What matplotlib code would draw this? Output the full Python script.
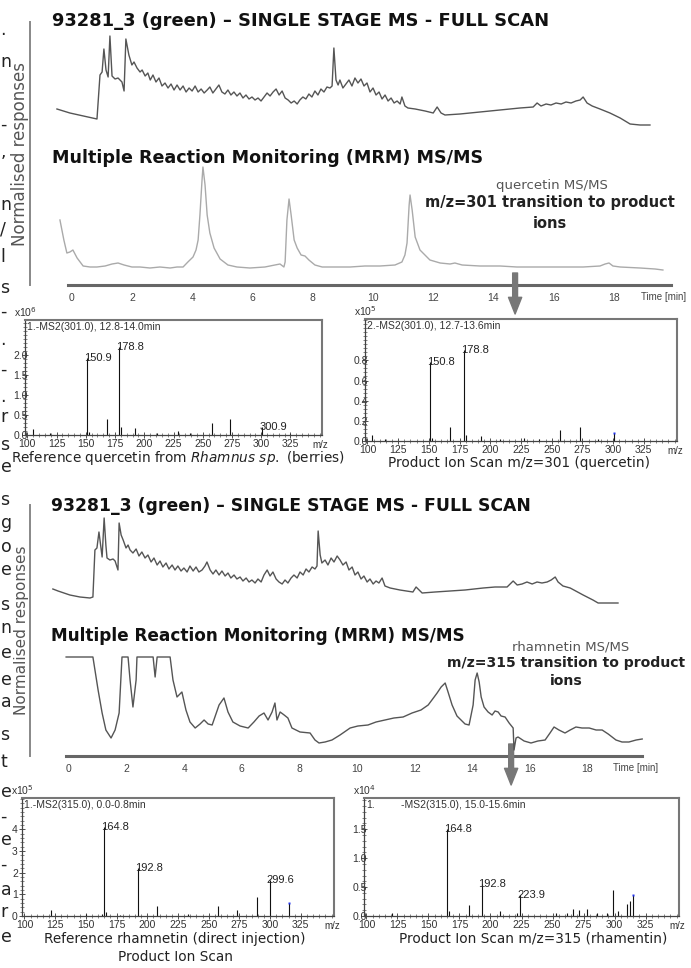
import matplotlib
matplotlib.use("Agg")
import matplotlib.pyplot as plt
from matplotlib.ticker import MultipleLocator

plt.rcParams['font.family'] = ['DejaVu Sans']

W, H = 691, 968

# chromatograms: (time [min], relative response)
fullscan_top = [
    (-0.5, 19), (-0.07, 15), (0.83, 9), (0.93, 53), (1.0, 56), (1.06, 79), (1.13, 58), (1.2, 51),
    (1.26, 92), (1.33, 52), (1.43, 49), (1.53, 50), (1.66, 46), (1.73, 37), (1.79, 89), (1.89, 73),
    (1.99, 63), (2.06, 66), (2.16, 60), (2.26, 56), (2.33, 58), (2.43, 52), (2.52, 55), (2.6, 48),
    (2.69, 53), (2.79, 46), (2.89, 50), (2.99, 42), (3.09, 45), (3.19, 40), (3.29, 44), (3.39, 38),
    (3.49, 43), (3.59, 38), (3.69, 42), (3.79, 36), (3.89, 40), (3.99, 37), (4.09, 42), (4.19, 36),
    (4.29, 39), (4.39, 35), (4.49, 38), (4.58, 41), (4.68, 35), (4.78, 39), (4.88, 43), (4.98, 36),
    (5.08, 34), (5.18, 38), (5.28, 33), (5.38, 36), (5.48, 32), (5.58, 35), (5.68, 30), (5.78, 33),
    (5.88, 29), (5.98, 31), (6.08, 28), (6.18, 30), (6.28, 27), (6.38, 31), (6.48, 35), (6.58, 32),
    (6.68, 36), (6.78, 39), (6.88, 33), (6.98, 37), (7.08, 30), (7.18, 28), (7.28, 25), (7.38, 27),
    (7.48, 24), (7.57, 28), (7.67, 31), (7.77, 29), (7.87, 34), (7.97, 31), (8.07, 37), (8.17, 33),
    (8.27, 39), (8.37, 36), (8.47, 41), (8.57, 40), (8.64, 42), (8.7, 80), (8.77, 48), (8.84, 43),
    (8.9, 48), (9.0, 40), (9.1, 44), (9.2, 48), (9.3, 42), (9.4, 50), (9.5, 45), (9.6, 49),
    (9.7, 42), (9.8, 45), (9.9, 36), (10.0, 40), (10.1, 33), (10.2, 36), (10.3, 29), (10.4, 33),
    (10.5, 27), (10.6, 30), (10.7, 25), (10.8, 27), (10.9, 24), (10.96, 31), (11.06, 22), (11.16, 20),
    (11.4, 19), (11.73, 17), (12.0, 15), (12.13, 21), (12.26, 15), (12.39, 13), (12.89, 14), (13.22, 15),
    (13.55, 16), (13.89, 17), (14.22, 18), (14.55, 19), (14.88, 20), (15.32, 21), (15.45, 25), (15.58, 22),
    (15.75, 24), (15.91, 23), (16.08, 25), (16.25, 24), (16.41, 26), (16.58, 25), (16.74, 27), (16.88, 28),
    (16.98, 31), (17.11, 25), (17.28, 22), (17.54, 19), (17.87, 15), (18.21, 10), (18.54, 4), (18.87, 3),
    (19.2, 3),
]

mrm_quercetin = [
    (-0.4, 50), (-0.27, 30), (-0.17, 17), (-0.07, 18), (0.03, 20), (0.17, 12), (0.37, 4), (0.6, 3),
    (0.83, 3), (1.1, 4), (1.33, 6), (1.53, 7), (1.73, 5), (1.99, 3), (2.26, 3), (2.59, 2), (2.92, 3),
    (3.26, 2), (3.49, 3), (3.69, 3), (3.85, 8), (4.02, 13), (4.12, 20), (4.19, 30), (4.25, 55),
    (4.32, 90), (4.35, 103), (4.42, 85), (4.49, 55), (4.58, 37), (4.72, 22), (4.92, 11), (5.18, 5),
    (5.48, 3), (5.91, 2), (6.41, 3), (6.74, 5), (6.91, 6), (7.04, 3), (7.08, 8), (7.14, 50), (7.21, 71),
    (7.28, 55), (7.38, 30), (7.48, 22), (7.61, 15), (7.74, 14), (7.87, 10), (8.07, 5), (8.31, 3),
    (8.74, 3), (9.24, 3), (9.73, 4), (10.23, 4), (10.73, 5), (10.96, 8), (11.06, 15), (11.13, 27),
    (11.2, 65), (11.23, 75), (11.3, 60), (11.4, 33), (11.56, 20), (11.89, 10), (12.23, 7), (12.56, 6),
    (12.72, 7), (12.96, 5), (13.55, 4), (14.22, 4), (14.78, 3), (15.55, 3), (16.21, 3), (16.98, 3),
    (17.54, 4), (17.71, 6), (17.84, 7), (17.97, 4), (18.21, 3), (18.87, 2), (19.37, 1), (19.63, 0),
]

fullscan_bottom = [
    (-0.56, 15), (-0.38, 13), (0.03, 9), (0.38, 7), (0.73, 6), (0.83, 7), (0.9, 54), (0.97, 56),
    (1.04, 72), (1.11, 56), (1.15, 47), (1.22, 86), (1.28, 59), (1.32, 46), (1.42, 44), (1.53, 45),
    (1.6, 43), (1.7, 34), (1.74, 81), (1.81, 69), (1.88, 64), (1.98, 56), (2.05, 59), (2.12, 54),
    (2.22, 51), (2.33, 55), (2.43, 48), (2.53, 52), (2.64, 46), (2.74, 49), (2.85, 42), (2.95, 46),
    (3.06, 39), (3.16, 43), (3.26, 37), (3.37, 41), (3.47, 35), (3.58, 39), (3.68, 34), (3.78, 38),
    (3.89, 33), (3.99, 36), (4.1, 32), (4.2, 38), (4.31, 33), (4.41, 37), (4.51, 32), (4.62, 34),
    (4.72, 38), (4.79, 42), (4.9, 34), (5.0, 30), (5.1, 34), (5.21, 29), (5.31, 33), (5.42, 28),
    (5.52, 31), (5.62, 26), (5.73, 29), (5.83, 25), (5.94, 27), (6.04, 23), (6.15, 26), (6.25, 22),
    (6.35, 24), (6.46, 21), (6.56, 25), (6.67, 22), (6.77, 29), (6.88, 34), (6.98, 28), (7.08, 32),
    (7.19, 25), (7.29, 22), (7.4, 20), (7.5, 24), (7.6, 21), (7.71, 26), (7.81, 29), (7.92, 26),
    (8.02, 32), (8.13, 29), (8.23, 35), (8.33, 32), (8.44, 37), (8.54, 35), (8.61, 38), (8.65, 73),
    (8.72, 49), (8.78, 41), (8.89, 44), (8.99, 39), (9.1, 46), (9.2, 42), (9.31, 48), (9.41, 44),
    (9.51, 39), (9.62, 42), (9.72, 34), (9.83, 37), (9.93, 29), (10.03, 32), (10.14, 25), (10.24, 28),
    (10.35, 22), (10.45, 25), (10.56, 20), (10.66, 23), (10.76, 21), (10.87, 26), (10.97, 18),
    (11.15, 16), (11.49, 14), (11.94, 12), (12.05, 17), (12.26, 11), (12.71, 12), (13.23, 13),
    (13.75, 14), (14.38, 16), (14.79, 17), (15.21, 17), (15.42, 23), (15.56, 19), (15.73, 20),
    (15.9, 22), (16.08, 20), (16.25, 22), (16.42, 21), (16.6, 22), (16.74, 24), (16.88, 27),
    (16.98, 22), (17.15, 18), (17.4, 16), (17.85, 9), (18.19, 4), (18.37, 1), (18.61, 1), (19.06, 1),
]

mrm_rhamnetin = [
    (-0.1, 95), (0.83, 95), (1.01, 62), (1.15, 39), (1.28, 22), (1.46, 14), (1.6, 22), (1.74, 39),
    (1.84, 95), (2.05, 95), (2.12, 72), (2.22, 45), (2.33, 72), (2.36, 95), (2.92, 95), (2.99, 75),
    (3.06, 95), (3.51, 95), (3.61, 72), (3.75, 55), (3.92, 60), (4.06, 42), (4.2, 30), (4.38, 24),
    (4.55, 28), (4.69, 32), (4.83, 28), (4.97, 27), (5.03, 32), (5.21, 47), (5.38, 54), (5.52, 40),
    (5.69, 30), (5.94, 26), (6.22, 24), (6.42, 30), (6.6, 36), (6.77, 39), (6.91, 32), (7.05, 40),
    (7.15, 49), (7.22, 32), (7.33, 40), (7.47, 37), (7.6, 34), (7.74, 24), (8.02, 20), (8.37, 19),
    (8.54, 12), (8.68, 9), (8.89, 10), (9.13, 12), (9.41, 17), (9.76, 24), (10.03, 26), (10.38, 27),
    (10.66, 30), (10.97, 32), (11.28, 34), (11.6, 35), (11.91, 39), (12.22, 42), (12.47, 47),
    (12.6, 52), (12.78, 59), (12.92, 65), (13.06, 69), (13.16, 60), (13.3, 47), (13.47, 36),
    (13.61, 32), (13.75, 28), (13.89, 27), (14.03, 47), (14.1, 72), (14.17, 79), (14.24, 70),
    (14.31, 55), (14.41, 45), (14.55, 40), (14.69, 37), (14.79, 41), (14.9, 40), (15.0, 36),
    (15.14, 35), (15.28, 29), (15.42, 24), (15.45, 2), (15.52, 14), (15.59, 15), (15.8, 11),
    (16.04, 9), (16.28, 11), (16.53, 12), (16.7, 19), (16.84, 25), (17.01, 22), (17.22, 19),
    (17.4, 22), (17.6, 25), (17.81, 24), (18.06, 24), (18.3, 22), (18.51, 22), (18.72, 18),
    (18.99, 12), (19.2, 10), (19.44, 10), (19.69, 12), (19.9, 13),
]

time_ticks = [0, 2, 4, 6, 8, 10, 12, 14, 16, 18]
arrow_time_top = 14.72
arrow_time_bottom = 15.35

# product ion spectra: (m/z, intensity)
ref_quercetin = [(104.8, 0.15), (119, 0.05), (150.9, 1.93), (152.5, 0.08), (168, 0.4), (178.8, 2.2),
                 (180.5, 0.2), (192, 0.17), (211, 0.05), (229, 0.1), (239, 0.05), (258, 0.3),
                 (273, 0.4), (300.9, 0.2), (325, 0.03)]
ref_quercetin_labels = [150.9, 178.8, 300.9]

scan_quercetin = [(103.7, 0.06), (114, 0.02), (150.8, 0.78), (152.5, 0.03), (167, 0.14), (178.8, 0.9),
                  (180.6, 0.06), (192.5, 0.05), (208, 0.02), (227.5, 0.03), (240, 0.02), (256.8, 0.11),
                  (273, 0.14), (288, 0.02)]
scan_quercetin_labels = [150.8, 178.8]
scan_quercetin_precursor = (301.0, 0.08)

ref_rhamnetin = [(121.6, 0.3), (150, 0.08), (163, 0.1), (164.8, 4.1), (166.5, 0.2), (178, 0.05),
                 (192.8, 2.2), (208, 0.45), (233, 0.1), (257.6, 0.45), (273, 0.28), (289, 0.9),
                 (299.6, 1.65)]
ref_rhamnetin_labels = [164.8, 192.8, 299.6]
ref_rhamnetin_precursor = (315.0, 0.6)

scan_rhamnetin = [(120.6, 0.06), (164.8, 1.5), (166.5, 0.08), (183, 0.19), (192.8, 0.56), (208, 0.09),
                  (221, 0.05), (223.9, 0.36), (253, 0.05), (262, 0.06), (266.6, 0.12), (271, 0.1),
                  (278, 0.12), (285.7, 0.05), (294, 0.06), (299, 0.45), (303, 0.08), (310, 0.2),
                  (312.5, 0.26)]
scan_rhamnetin_labels = [164.8, 192.8, 223.9]
scan_rhamnetin_precursor = (315.0, 0.36)

mz_ticks = [100, 125, 150, 175, 200, 225, 250, 275, 300, 325]

# cut-off letters of the neighbouring text column
edge_letters = [(".", 30), ("n", 62), ("-", 125), (",", 152), ("n", 205), ("/", 230), ("l", 257),
                ("s", 288), ("-", 312), (".", 340), ("-", 370), (".", 397), ("r", 417), ("s", 445),
                ("e", 467), ("s", 500), ("g", 523), ("o", 547), ("e", 570), ("s", 605), ("n", 628),
                ("e", 653), ("e", 680), ("a", 702), ("s", 735), ("t", 762), ("e", 792), ("-", 817),
                ("e", 840), ("-", 865), ("a", 890), ("r", 912), ("e", 937)]

fig = plt.figure(figsize=(W / 100, H / 100), dpi=100)


def px_axes(l, t, r, b):
    return fig.add_axes([l / W, 1 - b / H, (r - l) / W, (b - t) / H])


def fig_text(x, y, s, **kw):
    return fig.text(x / W, 1 - y / H, s, **kw)


def chrom_block(top, bottom, xlim, label_size, traces, arrow_t):
    frame = px_axes(30, top, 690, bottom)
    frame.patch.set_alpha(0)
    frame.set_xlim(xlim)
    frame.set_ylim(0, 1)
    frame.spines['top'].set_visible(False)
    frame.spines['right'].set_visible(False)
    frame.spines['left'].set_color('#888')
    frame.spines['left'].set_linewidth(1.4)
    frame.spines['bottom'].set_color('#666')
    frame.spines['bottom'].set_linewidth(2.2)
    frame.spines['bottom'].set_bounds(-0.12, 19.9)
    frame.set_yticks([])
    frame.set_xticks(time_ticks)
    frame.tick_params(axis='x', length=0, pad=6, labelsize=7.5, labelcolor='#444')
    for lbl in frame.get_xticklabels():
        lbl.set_fontfamily('Liberation Sans')
    frame.set_ylabel('Normalised responses', fontsize=label_size, color='#555', labelpad=1)
    frame.annotate('Time [min]', xy=(18.9, 0), xycoords=('data', 'axes fraction'),
                   xytext=(0, -12), textcoords='offset pixels', ha='left', va='center',
                   fontsize=7, color='#444', family='Liberation Sans')
    for (t0, b0, ylim, data, color) in traces:
        a = px_axes(30, t0, 690, b0)
        a.set_xlim(xlim)
        a.set_ylim(ylim)
        a.axis('off')
        tt, rr = zip(*data)
        a.plot(tt, rr, color=color, lw=1.0)
    frame.annotate('', xy=(arrow_t, H - bottom - 29), xycoords=('data', 'figure pixels'),
                   xytext=(arrow_t, H - bottom + 12), textcoords=('data', 'figure pixels'),
                   arrowprops=dict(arrowstyle='simple,head_width=0.95,head_length=1.2,tail_width=0.35',
                                   mutation_scale=10, color='#777', shrinkA=0, shrinkB=0),
                   annotation_clip=False)
    return frame


# top block (quercetin)
chrom_block(22, 285, (-1.395, 20.53), 12,
            [(30, 132, (-4, 98), fullscan_top, '#555'),
             (160, 272, (-2, 110), mrm_quercetin, '#aaa')],
            arrow_time_top)
fig_text(52, 26, '93281_3 (green) \u2013 SINGLE STAGE MS - FULL SCAN', fontsize=12.9,
         fontweight='bold', va='baseline', color='#111')
fig_text(52, 163, 'Multiple Reaction Monitoring (MRM) MS/MS', fontsize=12.6,
         fontweight='bold', va='baseline', color='#111')
fig_text(552, 185, 'quercetin MS/MS', fontsize=9.5, ha='center', va='center', color='#555')
fig_text(550, 203, 'm/z=301 transition to product', fontsize=10.5, fontweight='bold',
         ha='center', va='center', color='#222')
fig_text(550, 223, 'ions', fontsize=10.5, fontweight='bold', ha='center', va='center', color='#222')

# bottom block (rhamnetin)
chrom_block(505, 756, (-1.354, 21.56), 11,
            [(512, 608, (-4, 92), fullscan_bottom, '#555'),
             (650, 755, (-3, 102), mrm_rhamnetin, '#555')],
            arrow_time_bottom)
fig_text(51, 511, '93281_3 (green) \u2013 SINGLE STAGE MS - FULL SCAN', fontsize=12.4,
         fontweight='bold', va='baseline', color='#111')
fig_text(51, 641, 'Multiple Reaction Monitoring (MRM) MS/MS', fontsize=12.2,
         fontweight='bold', va='baseline', color='#111')
fig_text(571, 647, 'rhamnetin MS/MS', fontsize=9.5, ha='center', va='center', color='#555')
fig_text(566, 663, 'm/z=315 transition to product', fontsize=10.1, fontweight='bold',
         ha='center', va='center', color='#222')
fig_text(566, 681, 'ions', fontsize=10.1, fontweight='bold', ha='center', va='center', color='#222')


def spectrum(box, peaks, labels, precursor, ylim, yticks, ytick_labels, ypad, exponent, header,
             header2=None):
    ax = px_axes(*box)
    ax.set_xlim(98, 352)
    ax.set_ylim(ylim)
    mz, inten = zip(*peaks)
    ax.vlines(mz, 0, inten, color='#111', lw=0.8)
    if precursor is not None:
        ax.vlines([precursor[0]], 0, [precursor[1]], color='#111', lw=0.8)
        ax.plot([precursor[0]], [precursor[1]], marker='s', ms=1.8, color='#2233ee', mec='none')
    lookup = dict(peaks)
    for m in labels:
        ax.annotate(f'{m}', xy=(m, lookup[m]), xytext=(-3, 0), textcoords='offset pixels',
                    ha='left', va='center', fontsize=8, family='Liberation Sans', color='#222')
    ax.set_xticks(mz_ticks)
    ax.xaxis.set_minor_locator(MultipleLocator(5))
    ax.set_yticks(yticks)
    ax.set_yticklabels(ytick_labels)
    ax.yaxis.set_minor_locator(MultipleLocator(yticks[1] / 5))
    ax.tick_params(axis='both', which='major', direction='inout', length=4, width=0.6,
                   labelsize=7.5, colors='#333')
    ax.tick_params(axis='both', which='minor', direction='inout', length=2.2, width=0.5, colors='#555')
    ax.tick_params(axis='x', pad=1)
    ax.tick_params(axis='y', pad=ypad)
    for lbl in ax.get_xticklabels() + ax.get_yticklabels():
        lbl.set_fontfamily('Liberation Sans')
    for s in ['top', 'right']:
        ax.spines[s].set_color('#777')
        ax.spines[s].set_linewidth(1.5)
    for s in ['left', 'bottom']:
        ax.spines[s].set_color('#444')
        ax.spines[s].set_linewidth(0.9)
    ax.annotate('m/z', xy=(1, 0), xycoords='axes fraction', xytext=(-2, -10),
                textcoords='offset pixels', ha='center', va='center', fontsize=7,
                family='Liberation Sans', color='#333')
    ax.annotate(exponent, xy=(0, 1), xycoords='axes fraction', xytext=(-11, 1),
                textcoords='offset pixels', ha='left', va='bottom', fontsize=7.5,
                family='Liberation Sans', color='#333')
    ax.annotate(header, xy=(0, 1), xycoords='axes fraction', xytext=(2, -2),
                textcoords='offset pixels', ha='left', va='top', fontsize=7.5,
                family='Liberation Sans', color='#333')
    if header2 is not None:
        ax.annotate(header2, xy=(0, 1), xycoords='axes fraction', xytext=(37, -2),
                    textcoords='offset pixels', ha='left', va='top', fontsize=7.5,
                    family='Liberation Sans', color='#333')
    return ax


spectrum((25, 320, 322, 435), ref_quercetin, ref_quercetin_labels, None, (0, 2.875),
         [0, 0.5, 1.0, 1.5, 2.0], ['0.0', '0.5', '1.0', '1.5', '2.0'], -4,
         r'x10$^{6}$', '1.-MS2(301.0), 12.8-14.0min')
spectrum((365, 319, 677, 441), scan_quercetin, scan_quercetin_labels, scan_quercetin_precursor,
         (0, 1.21), [0, 0.2, 0.4, 0.6, 0.8], ['0.0', '0.2', '0.4', '0.6', '0.8'], -4,
         r'x10$^{5}$', '2.-MS2(301.0), 12.7-13.6min')
spectrum((22, 798, 334, 916), ref_rhamnetin, ref_rhamnetin_labels, ref_rhamnetin_precursor,
         (0, 5.45), [0, 1, 2, 3, 4], ['0', '1', '2', '3', '4'], 1,
         r'x10$^{5}$', '1.-MS2(315.0), 0.0-0.8min')
spectrum((364, 798, 679, 916), scan_rhamnetin, scan_rhamnetin_labels, scan_rhamnetin_precursor,
         (0, 2.04), [0, 0.5, 1.0, 1.5], ['0.0', '0.5', '1.0', '1.5'], -4,
         r'x10$^{4}$', '1.', '-MS2(315.0), 15.0-15.6min')

cap = dict(fontsize=9.8, ha='center', va='center', color='#222')
fig_text(178, 458, r'Reference quercetin from $\mathit{Rhamnus\ sp.}$ (berries)', **cap)
fig_text(519, 463, 'Product Ion Scan m/z=301 (quercetin)', **cap)
fig_text(175, 939, 'Reference rhamnetin (direct injection)', **cap)
fig_text(175, 957, 'Product Ion Scan', **cap)
fig_text(533, 939, 'Product Ion Scan m/z=315 (rhamentin)', **cap)

for ch, y in edge_letters:
    fig_text(0.5, y, ch, fontsize=12.5, ha='left', va='center', color='#222')

fig.savefig('out.png', dpi=100)
